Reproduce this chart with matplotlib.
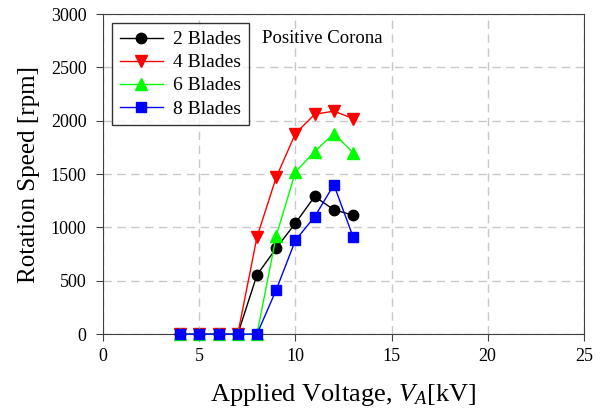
import matplotlib
matplotlib.use("Agg")
import matplotlib.pyplot as plt

voltage = [4, 5, 6, 7, 8, 9, 10, 11, 12, 13]
blades2 = [0, 0, 0, 0, 555, 805, 1040, 1290, 1165, 1115]
blades4 = [0, 0, 0, 0, 910, 1470, 1880, 2060, 2090, 2020]
blades6 = [0, 0, 0, 0, 0, 920, 1520, 1710, 1880, 1700]
blades8 = [0, 0, 0, 0, 0, 415, 880, 1100, 1400, 910]

plt.rcParams['font.family'] = ['Liberation Serif', 'DejaVu Serif']
plt.rcParams['mathtext.fontset'] = 'custom'
plt.rcParams['mathtext.rm'] = 'Liberation Serif'
plt.rcParams['mathtext.it'] = 'Liberation Serif:italic'

fig = plt.figure(figsize=(6, 4.12), dpi=100)
ax = fig.add_axes([0.172, 0.189, 0.801, 0.777])

ax.plot(voltage, blades2, color='black', marker='o', markersize=7.5, lw=1, label='2 Blades', clip_on=False, zorder=3)
ax.plot(voltage, blades4, color='red', marker='v', markersize=8, lw=1, label='4 Blades', clip_on=False, zorder=3)
ax.plot(voltage, blades6, color='#00ff00', marker='^', markersize=8, lw=1, label='6 Blades', clip_on=False, zorder=3)
ax.plot(voltage, blades8, color='blue', marker='s', markersize=7, lw=1, label='8 Blades', clip_on=False, zorder=3)

ax.set_xlim(0, 25)
ax.set_ylim(0, 3000)
ax.set_xticks([0, 5, 10, 15, 20, 25])
ax.set_yticks([0, 500, 1000, 1500, 2000, 2500, 3000])
ax.grid(True, color='#c8c8c8', linestyle=(0, (6, 4)), lw=1)
ax.set_axisbelow(True)
for s in ax.spines.values():
    s.set_color('#404040')
ax.tick_params(labelsize=13, direction='out', length=5, color='#404040')
ax.tick_params(axis='y', pad=7)
ax.tick_params(axis='x', pad=5)

ax.set_xlabel('Applied Voltage, $V_A$[kV]', fontsize=19, labelpad=12)
ax.set_ylabel('Rotation Speed [rpm]', fontsize=18, labelpad=8)

ax.text(8.25, 2770, 'Positive Corona', fontsize=13.5, va='center')

leg = ax.legend(loc='upper left', bbox_to_anchor=(0.019, 0.972), borderaxespad=0,
                fontsize=14, frameon=True, fancybox=False, edgecolor='black',
                handlelength=2.2, borderpad=0.4, labelspacing=0.28, handletextpad=0.5)
leg.get_frame().set_linewidth(1)

fig.savefig('out.png', dpi=100)
